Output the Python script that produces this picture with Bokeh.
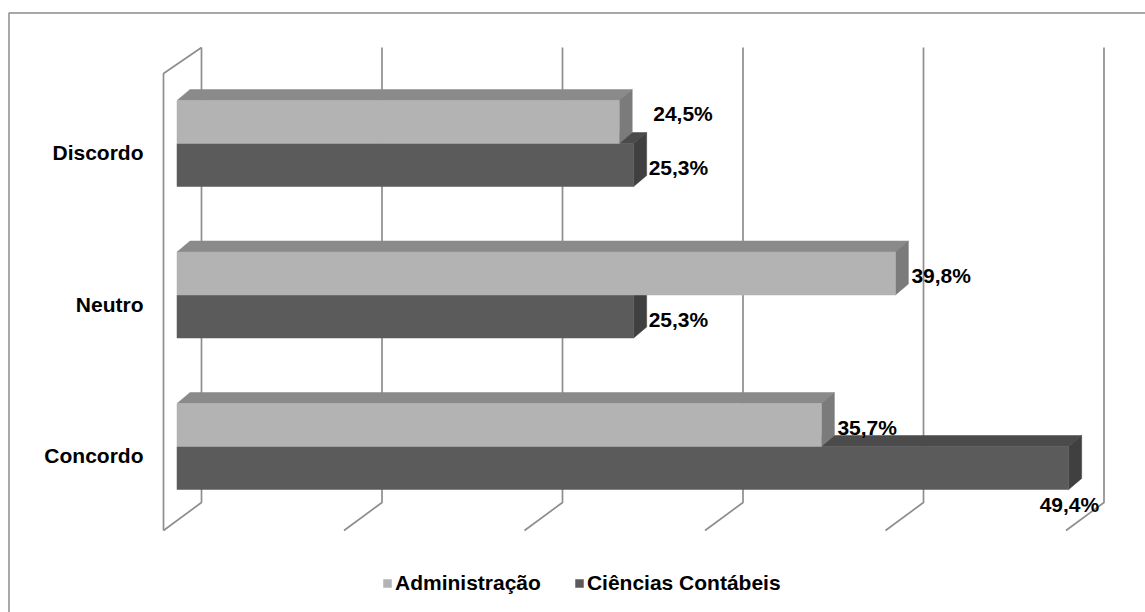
from bokeh.plotting import figure
from bokeh.models import Range1d, Legend, LegendItem, ColumnDataSource
from bokeh.core.properties import value
from bokeh.embed import file_html
from bokeh.resources import INLINE

# ---- data ----
categories = ["Concordo", "Neutro", "Discordo"]
series_names = ["Administração", "Ciências Contábeis"]
administracao = [35.7, 39.8, 24.5]
contabeis = [49.4, 25.3, 25.3]
grid_ticks = [0, 10, 20, 30, 40, 50]

# ---- layout (pixels) ----
W, H = 1145, 612
X_ZERO_PX = 176.5          # where 0 % sits on the bars' front face
PX_PER_PCT = 18.05
Y_BASE_PX = 446            # first category, boundary between the two bars
PX_PER_CAT = 151.5
BAR_PX = 43                # height of one bar's front face
BAR_DEPTH = (13, 11)       # bar depth: right / up (px)
WALL_BACK_PX = 201         # 0 % on the back wall
WALL_FRONT_PX = 163        # 0 % on the front edge of the floor
WALL_TOP_PX = 47
WALL_BOTTOM_PX = 502
FLOOR_FRONT_PX = 530
WALL_FRONT_TOP_PX = 73
BORDER_LEFT_PX, BORDER_TOP_PX = 8.5, 12.5
FONT = "Liberation Sans"

def dx(px):
    return px / PX_PER_PCT

def dy(px):
    return px / PX_PER_CAT

def xdata(px):
    return (px - X_ZERO_PX) / PX_PER_PCT

def ydata(py):
    return (Y_BASE_PX - py) / PX_PER_CAT

p = figure(width=W, height=H, output_backend="svg", toolbar_location=None,
           x_range=Range1d(xdata(0), xdata(W)), y_range=Range1d(ydata(H), ydata(0)),
           x_axis_type=None, y_axis_type=None,
           min_border_left=0, min_border_top=0,
           min_border_right=0, min_border_bottom=0)
p.grid.visible = False
p.outline_line_color = None
p.background_fill_color = "white"
p.border_fill_color = "white"

# chart area border (left and top edges)
p.line([xdata(BORDER_LEFT_PX), xdata(BORDER_LEFT_PX), xdata(W)],
       [ydata(H), ydata(BORDER_TOP_PX), ydata(BORDER_TOP_PX)],
       line_color="#8c8c8c", line_width=1.5)

# ---- walls & gridlines ----
back_shift = dx(WALL_BACK_PX - X_ZERO_PX)
front_shift = dx(WALL_FRONT_PX - X_ZERO_PX)
gx, gy = [], []
for t in grid_ticks:
    gx.append([t + back_shift, t + back_shift, t + front_shift])
    gy.append([ydata(WALL_TOP_PX), ydata(WALL_BOTTOM_PX), ydata(FLOOR_FRONT_PX)])
gx.append([back_shift, front_shift, front_shift])
gy.append([ydata(WALL_TOP_PX), ydata(WALL_FRONT_TOP_PX), ydata(FLOOR_FRONT_PX)])
p.multi_line(gx, gy, line_color="#8e8e8e", line_width=1.7)

# ---- 3D bars ----
bar_h = dy(BAR_PX)
ddx, ddy = dx(BAR_DEPTH[0]), dy(BAR_DEPTH[1])

def faces(values, upper):
    tops_x, tops_y, sides_x, sides_y = [], [], [], []
    ys = []
    for i, v in enumerate(values):
        bottom = i if upper else i - bar_h
        top = bottom + bar_h
        ys.append(bottom + bar_h / 2)
        tops_x.append([0, v, v + ddx, ddx])
        tops_y.append([top, top, top + ddy, top + ddy])
        sides_x.append([v, v, v + ddx, v + ddx])
        sides_y.append([bottom, top, top + ddy, bottom + ddy])
    return tops_x, tops_y, sides_x, sides_y, ys

styles = {
    "dark": dict(front="#5b5b5b", top="#4b4b4b", side="#404040"),
    "light": dict(front="#b3b3b3", top="#8a8a8a", side="#7b7b7b"),
}

renderers = {}
for key, vals, upper in [("dark", contabeis, False), ("light", administracao, True)]:
    tx, ty, sx, sy, ys = faces(vals, upper)
    st = styles[key]
    p.patches(tx, ty, fill_color=st["top"], line_color=st["top"], line_width=0.5)
    p.patches(sx, sy, fill_color=st["side"], line_color=st["side"], line_width=0.5)
    src = ColumnDataSource(dict(y=ys, right=vals))
    renderers[key] = p.hbar(y="y", left=0, right="right", height=bar_h, source=src,
                            fill_color=st["front"], line_color=st["front"], line_width=0.5)

# ---- value labels ----
def fmt(v):
    return f"{v:.1f}".replace(".", ",") + "%"

# per-label nudges (px) from the bar's back-right corner
label_offsets_light = [(3, 2.5), (3, 2), (21, -8.5)]
label_offsets_dark = [(-42, 36.5), (2, 2.5), (2, 2.5)]
for vals, upper, offs in [(administracao, True, label_offsets_light),
                          (contabeis, False, label_offsets_dark)]:
    for i, v in enumerate(vals):
        yc = i + bar_h / 2 if upper else i - bar_h / 2
        p.text(x=[v + ddx], y=[yc], text=[fmt(v)],
               x_offset=offs[i][0], y_offset=offs[i][1],
               text_font=value(FONT), text_font_style="bold",
               text_font_size="21px", text_color="black",
               text_align="left", text_baseline="middle")

# ---- category labels ----
p.text(x=[xdata(143)] * len(categories), y=list(range(len(categories))),
       text=categories, y_offset=9,
       text_font=value(FONT), text_font_style="bold",
       text_font_size="21px", text_color="black",
       text_align="right", text_baseline="middle")

# ---- legend ----
legend = Legend(items=[LegendItem(label=series_names[0], renderers=[renderers["light"]]),
                       LegendItem(label=series_names[1], renderers=[renderers["dark"]])],
                orientation="horizontal", location=(382, 17),
                glyph_width=10, glyph_height=10, label_standoff=3, spacing=33,
                padding=0, margin=0, border_line_alpha=0, background_fill_alpha=0,
                label_text_font=FONT, label_text_font_style="bold",
                label_text_font_size="21px", label_text_color="black")
p.add_layout(legend, "center")

open("out.html", "w").write(file_html(p, INLINE))
